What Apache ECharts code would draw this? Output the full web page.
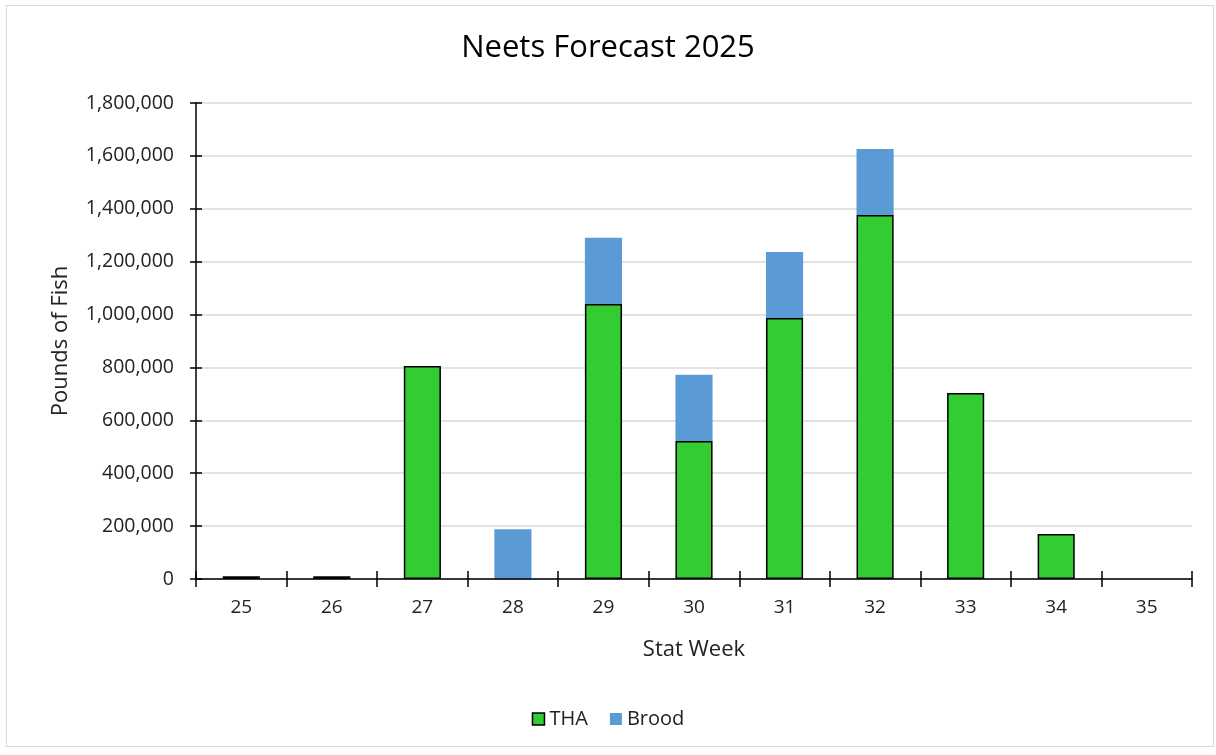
<!DOCTYPE html>
<html>
<head>
<meta charset="utf-8">
<script src="https://cdn.jsdelivr.net/npm/echarts@6/dist/echarts.min.js"></script>
<style>
html,body{margin:0;padding:0;background:#fff;}
#frame{position:absolute;left:6px;top:5px;width:1208px;height:742px;border:1px solid #d9d9d9;box-sizing:border-box;}
#chart{position:absolute;left:0;top:0;width:1216px;height:755px;}
</style>
</head>
<body>
<div id="frame"></div>
<div id="chart"></div>
<script>
const categories = ['25','26','27','28','29','30','31','32','33','34','35'];
const thaValues = [10000, 10000, 805000, 3000, 1040000, 522000, 987000, 1376000, 703000, 170000, null];
const broodValues = [null, null, null, 185000, 250000, 250000, 250000, 250000, null, null, null];
const yTicks = {min: 0, max: 1800000, interval: 200000};

const FONT = '"Open Sans", "Noto Sans", sans-serif';
const chart = echarts.init(document.getElementById('chart'));
const fmt = v => v.toLocaleString('en-US');

chart.setOption({
  animation: false,
  backgroundColor: 'transparent',
  title: {
    text: 'Neets Forecast 2025',
    left: 'center',
    top: 28,
    textStyle: {fontFamily: FONT, fontSize: 31, fontWeight: 'normal', color: '#000'}
  },
  legend: {
    bottom: 21,
    left: 'center',
    itemWidth: 12,
    itemHeight: 12,
    itemGap: 22,
    textStyle: {fontFamily: FONT, fontSize: 20, color: '#222'},
    data: [
      {name: 'THA', icon: 'rect', itemStyle: {color: '#33cc33', borderColor: '#000', borderWidth: 1.5}},
      {name: 'Brood', icon: 'rect', itemStyle: {color: '#5b9bd5', borderWidth: 0}}
    ]
  },
  grid: {left: 196, right: 24, top: 103, bottom: 176},
  xAxis: [{
    type: 'category',
    data: categories,
    name: 'Stat Week',
    nameLocation: 'middle',
    nameGap: 60,
    nameTextStyle: {fontFamily: FONT, fontSize: 22, color: '#222'},
    axisLine: {lineStyle: {color: '#000', width: 1.5}},
    axisTick: {show: true, alignWithLabel: false, length: 8, lineStyle: {color: '#000', width: 1.5}},
    axisLabel: {fontFamily: FONT, fontSize: 19, color: '#222', margin: 19}
  }, {
    type: 'category',
    data: categories,
    position: 'bottom',
    axisLine: {show: false},
    axisTick: {show: true, inside: true, length: 8, lineStyle: {color: '#000', width: 1.5}},
    axisLabel: {show: false}
  }],
  yAxis: [{
    type: 'value',
    min: yTicks.min,
    max: yTicks.max,
    interval: yTicks.interval,
    name: 'Pounds of Fish',
    nameLocation: 'middle',
    nameGap: 124,
    nameTextStyle: {fontFamily: FONT, fontSize: 22, color: '#222'},
    axisLine: {show: true, lineStyle: {color: '#000', width: 1.5}},
    axisTick: {show: true, length: 6, lineStyle: {color: '#000', width: 1.5}},
    axisLabel: {fontFamily: FONT, fontSize: 19.5, color: '#222', margin: 22, formatter: fmt},
    splitLine: {lineStyle: {color: '#d9d9d9', width: 1.5}}
  }, {
    type: 'value',
    min: yTicks.min,
    max: yTicks.max,
    interval: yTicks.interval,
    position: 'left',
    offset: 0,
    axisLine: {show: false},
    axisTick: {show: true, inside: true, length: 6, lineStyle: {color: '#000', width: 1.5}},
    axisLabel: {show: false},
    splitLine: {show: false}
  }],
  series: [{
    name: 'THA',
    type: 'bar',
    stack: 'total',
    data: thaValues,
    barWidth: '41%',
    itemStyle: {color: '#33cc33', borderColor: '#000', borderWidth: 1.5}
  }, {
    name: 'Brood',
    type: 'bar',
    stack: 'total',
    data: broodValues,
    barWidth: '41%',
    itemStyle: {color: '#5b9bd5', borderWidth: 0}
  }]
});
</script>
</body>
</html>
